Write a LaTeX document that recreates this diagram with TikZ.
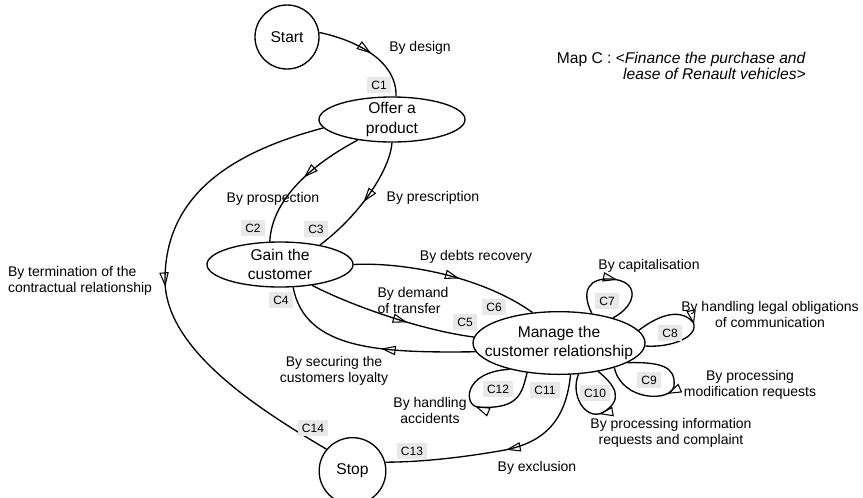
\documentclass[tikz,border=0pt]{standalone}
\usepackage{fontspec}
\setmainfont{Liberation Sans}
\usetikzlibrary{shapes.geometric,arrows.meta,decorations.markings}
\definecolor{tagfill}{gray}{0.91}
\newcommand{\goalfont}{\fontsize{11.7}{14.5}\selectfont}
\newcommand{\titlefont}{\fontsize{11.7}{11.5}\selectfont}
\newcommand{\stratfont}{\fontsize{10.5}{12}\selectfont}
\newcommand{\tagfont}{\fontsize{9}{10}\selectfont}
\tikzset{
  goal/.style={ellipse, draw, line width=1pt, align=center, font=\goalfont, inner xsep=0pt, inner ysep=-2pt},
  endpoint/.style={circle, draw, line width=1pt, minimum size=48pt, inner sep=0pt, font=\goalfont},
  strat/.style={font=\stratfont, align=center, inner sep=0pt},
  tag/.style={fill=tagfill, font=\tagfont, inner xsep=3pt, inner ysep=0pt, minimum height=12pt},
  flow/.style={draw, line width=1pt, postaction={decorate},
    decoration={markings, mark=at position #1 with {\arrow{Triangle[open,length=11pt,width=7pt,line width=0.8pt]}}}},
  flow/.default=0.5
}
\begin{document}
\begin{tikzpicture}[x=0.75pt,y=-0.75pt]
\useasboundingbox (0,0) rectangle (863,497);

\node[endpoint] (start) at (287,37) {Start};
\node[goal, minimum width=109.5pt, minimum height=33.75pt] (offer) at (392,119.5) {Offer a\\product};
\node[goal, minimum width=109.5pt, minimum height=33.75pt] (gain) at (280,264.5) {Gain the\\customer};
\node[goal, inner xsep=-10pt, minimum width=129pt, minimum height=47pt] (manage) at (559,343) {Manage the\\customer relationship};
\node[endpoint, minimum size=50pt] (stop) at (352.5,471) {Stop};

\node[strat, font=\titlefont, align=right, anchor=east] (title) at (806,66) {Map C : <\textit{Finance the purchase and}\\\textit{lease of Renault vehicles>}};

\path[flow=0.52] (start.8) .. controls (355,40) and (397,60) .. (offer.80);
\path[flow=0.47] (offer.211) .. controls (320,160) and (272,195) .. (gain.114);
\path[flow=0.52] (offer.south) .. controls (390,170) and (360,215) .. (gain.26);
\path[flow=0.51] (offer.187) .. controls (240,150) and (165,190) .. (165,280) .. controls (165,350) and (260,410) .. (stop.140);
\path[flow=0.57] (gain.east) .. controls (400,262) and (480,275) .. (manage.131);
\path[flow=0.6] (gain.-33) .. controls (350,305) and (420,330) .. (manage.176);
\path[flow=0.45] (manage.186) .. controls (380,353) and (305,350) .. (gain.-60);
\path[flow=0.47] (manage.-70) .. controls (566,420) and (545,442) .. (505,450) .. controls (460,458) and (420,462) .. (stop.15);

\path[flow=0.52] (manage.42) .. controls (580,290) and (590,278) .. (610,279) .. controls (640,280) and (638,305) .. (manage.25);
\path[flow=0.52] (manage.9) .. controls (655,318) and (678,306) .. (693,322) .. controls (700,336) and (672,348) .. (manage.-2);
\path[flow=0.52] (manage.-16) .. controls (660,362) and (676,366) .. (674,386) .. controls (672,402) and (622,402) .. (manage.-24);
\path[flow=0.52] (manage.-36) .. controls (615,385) and (625,400) .. (602,413) .. controls (585,420) and (570,395) .. (manage.-58);
\path[flow=0.52] (manage.223) .. controls (522,392) and (520,410) .. (478,407) .. controls (464,406) and (462,372) .. (manage.208);

\node[strat] (design) at (420,48) {By design};
\node[strat] (prospection) at (273,199) {By prospection};
\node[strat] (prescription) at (433,198) {By prescription};
\node[strat, align=left] (termination) at (80,281) {By termination of the\\contractual relationship};
\node[strat] (debts) at (476,257) {By debts recovery};
\node[strat, align=left] (transfer) at (413,300) {By demand\\of transfer};
\node[strat] (securing) at (334,371) {By securing the\\customers loyalty};
\node[strat] (capital) at (649,266) {By capitalisation};
\node[strat] (legal) at (770,314) {By handling legal obligations\\of communication};
\node[strat] (modif) at (750,385) {By processing\\modification requests};
\node[strat] (inform) at (671,433) {By processing information\\requests and complaint};
\node[strat] (accident) at (430,410) {By handling\\accidents};
\node[strat] (exclusion) at (537,468) {By exclusion};

\node[tag] (c1) at (379,85) {C1};
\node[tag] (c2) at (253,228) {C2};
\node[tag] (c3) at (316,229) {C3};
\node[tag] (c4) at (281,300) {C4};
\node[tag] (c5) at (465,322) {C5};
\node[tag] (c6) at (494,307) {C6};
\node[tag] (c7) at (607,301) {C7};
\node[tag] (c8) at (670,333) {C8};
\node[tag] (c9) at (649,380) {C9};
\node[tag] (c10) at (595,393) {C10};
\node[tag] (c11) at (545,390) {C11};
\node[tag] (c12) at (498,389) {C12};
\node[tag] (c13) at (412,451) {C13};
\node[tag] (c14) at (313,428) {C14};

\end{tikzpicture}
\end{document}
